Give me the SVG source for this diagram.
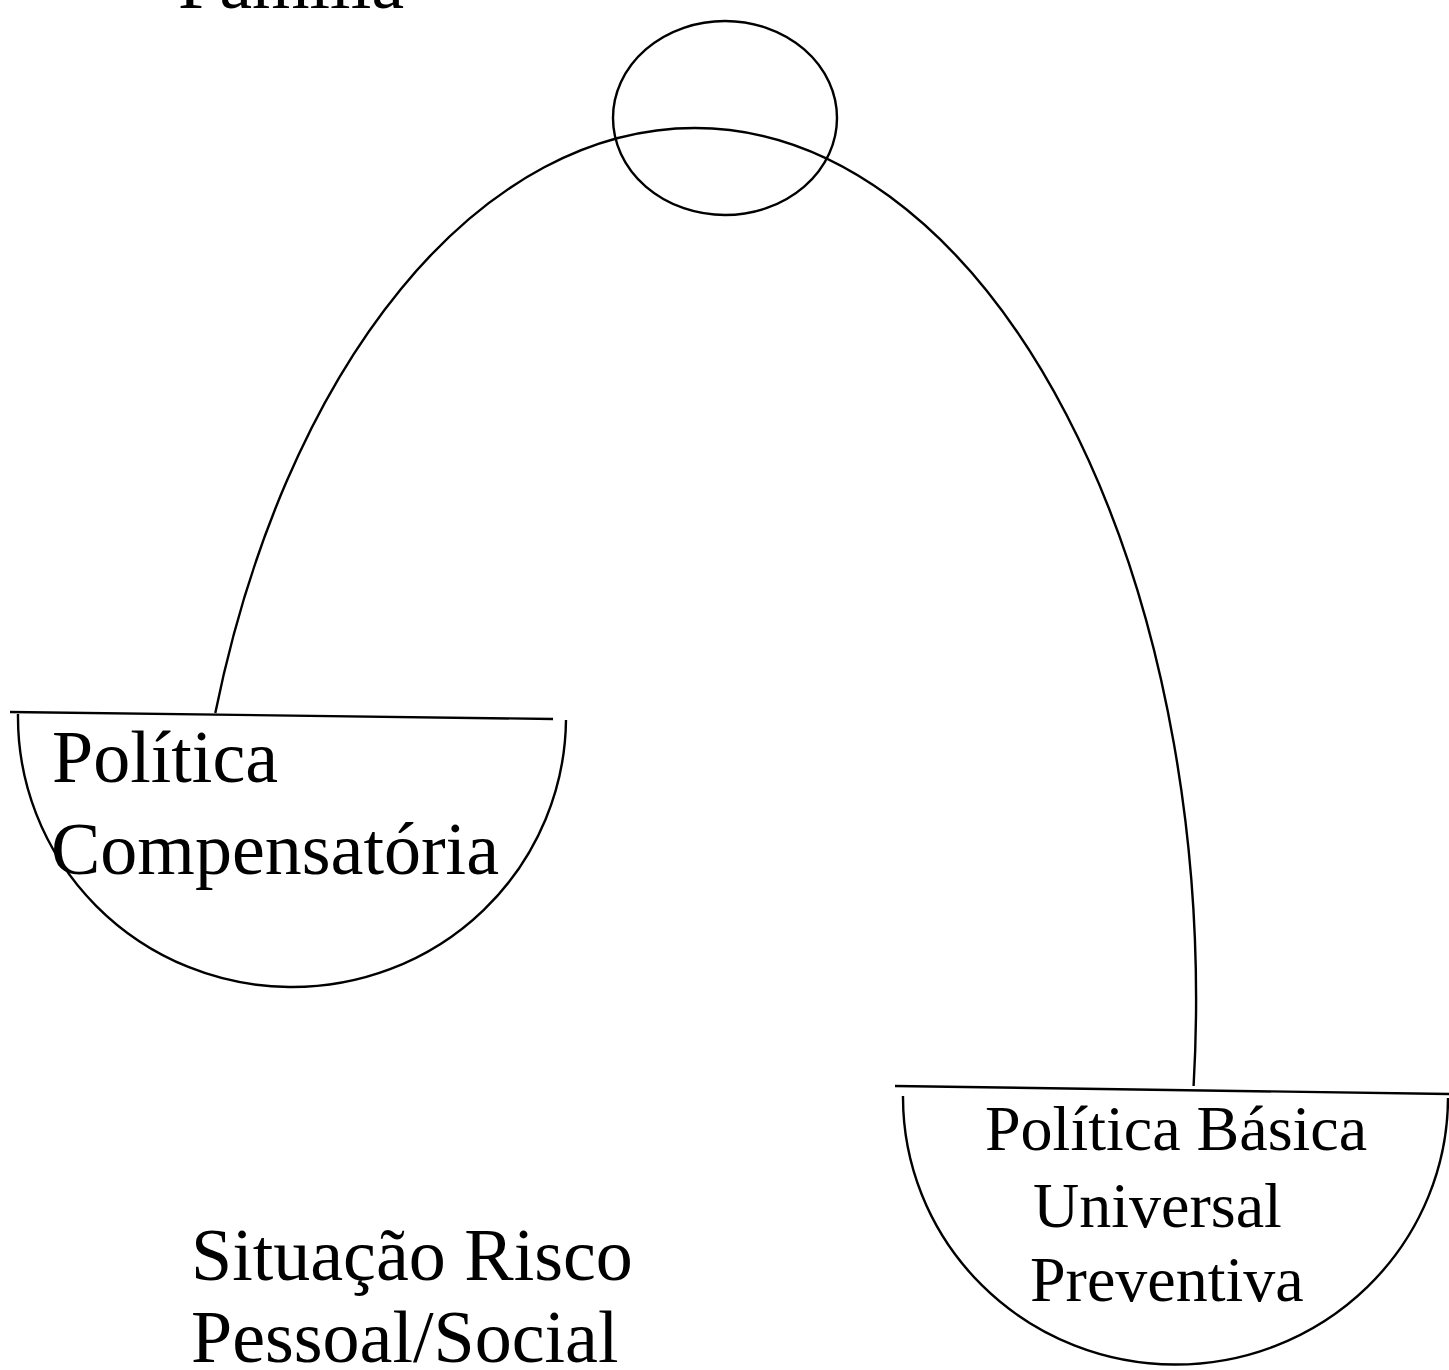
<svg xmlns="http://www.w3.org/2000/svg" width="1449" height="1370" viewBox="0 0 1449 1370">
<style>
.ln{fill:none;stroke:#000;stroke-width:2.4}
.t{font-family:"Liberation Serif","Times New Roman",serif;fill:#000}
.big{font-size:74px}
.mid{font-size:64px}
</style>
<rect width="1449" height="1370" fill="#fff"/>
<g id="familia">
<text class="t big" x="178" y="8">Família</text>
<ellipse class="ln" cx="725" cy="118" rx="112" ry="97"/>
</g>
<g id="connectors">
<path class="ln" d="M215.3,713 A508,872 0 0 1 695,128 A501,872 0 0 1 1193.6,1086"/>
</g>
<g id="compensatoria">
<path class="ln" d="M10,712 L553,719"/>
<path class="ln" d="M18,714 A274,270 0 0 0 566,720"/>
<text class="t big" x="52" y="782">Política</text>
<text class="t big" x="51" y="874">Compensatória</text>
</g>
<g id="basica">
<path class="ln" d="M895,1086 L1449,1094"/>
<path class="ln" d="M903,1096 A272,267 0 0 0 1448,1098"/>
<text class="t mid" x="985" y="1150">Política Básica</text>
<text class="t mid" x="1033" y="1227">Universal</text>
<text class="t mid" x="1030" y="1301">Preventiva</text>
</g>
<g id="risco">
<text class="t big" x="191" y="1280">Situação Risco</text>
<text class="t big" x="191" y="1362">Pessoal/Social</text>
</g>
</svg>
